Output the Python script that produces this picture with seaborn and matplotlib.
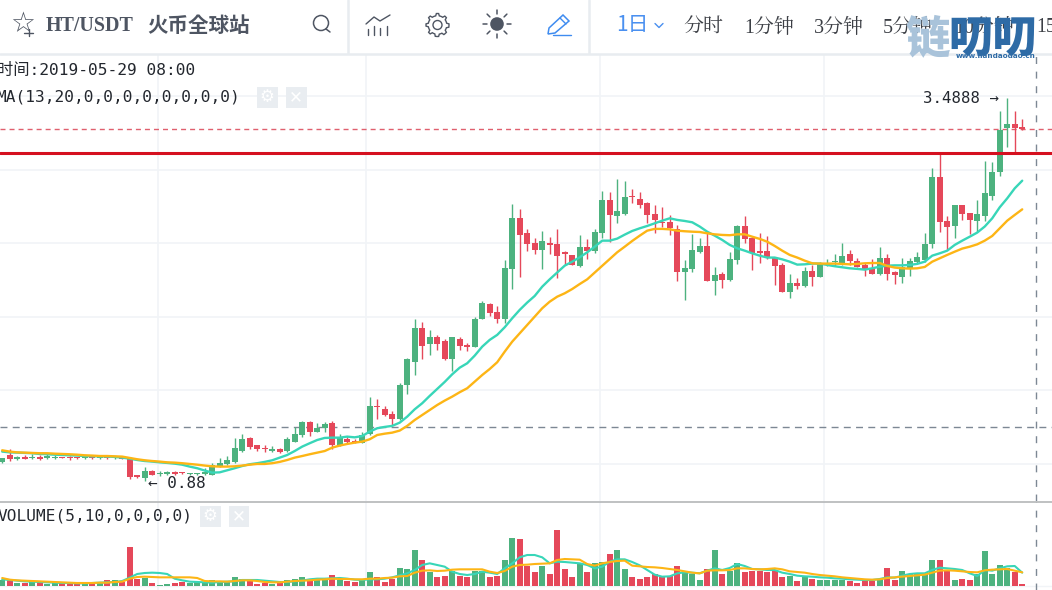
import numpy as np
import pandas as pd
import matplotlib
matplotlib.use("Agg")
import matplotlib.pyplot as plt
from matplotlib.patches import Rectangle, Circle, Polygon
import seaborn as sns

body_top = [1.039,1.061,1.050,1.050,1.050,1.050,1.054,1.050,1.048,1.050,
1.045,1.045,1.045,1.045,1.045,1.045,1.045,1.036,0.923,0.955,
0.952,0.941,0.946,0.946,0.943,0.937,0.937,0.943,0.993,1.005,
1.027,1.107,1.172,1.179,1.127,1.109,1.100,1.102,1.170,1.202,
1.288,1.283,1.247,1.272,1.277,1.175,1.170,1.159,1.200,1.395,
1.395,1.374,1.342,1.537,1.712,1.925,1.925,1.864,1.864,1.834,
1.864,1.853,1.812,1.986,2.098,2.088,2.036,2.333,2.671,2.671,
2.569,2.506,2.517,2.506,2.497,2.440,2.424,2.476,2.476,2.578,
2.794,2.794,2.721,2.814,2.823,2.803,2.773,2.701,2.649,2.649,
2.599,2.333,2.456,2.485,2.485,2.283,2.293,2.395,2.621,2.619,
2.537,2.447,2.447,2.404,2.354,2.234,2.231,2.313,2.313,2.363,
2.370,2.383,2.415,2.426,2.383,2.354,2.333,2.404,2.404,2.304,
2.342,2.383,2.408,2.497,2.955,2.955,2.651,2.762,2.762,2.710,
2.701,2.844,2.986,3.272,3.311,3.311,3.290]
body_bottom = [1.011,1.034,1.032,1.036,1.039,1.032,1.043,1.043,1.043,1.043,
1.039,1.039,1.041,1.041,1.041,1.041,1.036,0.914,0.914,0.902,
0.927,0.932,0.932,0.932,0.937,0.932,0.932,0.932,0.927,0.989,
0.998,1.016,1.091,1.118,1.100,1.100,1.091,1.082,1.091,1.152,
1.197,1.220,1.220,1.245,1.129,1.129,1.147,1.147,1.141,1.202,
1.385,1.333,1.304,1.304,1.540,1.694,1.805,1.814,1.814,1.712,
1.712,1.805,1.794,1.794,1.989,2.029,1.986,1.986,2.324,2.560,
2.499,2.456,2.456,2.490,2.415,2.431,2.354,2.345,2.447,2.447,
2.569,2.692,2.689,2.701,2.814,2.762,2.692,2.660,2.639,2.603,
2.304,2.304,2.324,2.442,2.243,2.243,2.252,2.252,2.385,2.528,
2.438,2.438,2.404,2.345,2.170,2.170,2.213,2.211,2.272,2.272,
2.356,2.372,2.361,2.383,2.342,2.324,2.293,2.293,2.293,2.286,
2.272,2.331,2.374,2.385,2.494,2.649,2.610,2.619,2.701,2.660,
2.651,2.689,2.823,2.986,3.286,3.286,3.279]
wick_high = [1.043,1.100,1.054,1.061,1.066,1.061,1.066,1.061,1.050,1.054,
1.050,1.054,1.048,1.048,1.048,1.048,1.048,1.045,0.927,0.982,
0.959,0.955,0.955,0.955,0.946,0.939,0.939,0.971,1.009,1.039,
1.054,1.175,1.202,1.181,1.132,1.127,1.122,1.107,1.186,1.254,
1.293,1.293,1.277,1.283,1.293,1.204,1.190,1.170,1.220,1.454,
1.442,1.395,1.361,1.553,1.719,1.984,1.966,1.909,1.875,1.850,
1.864,1.864,1.823,1.998,2.107,2.098,2.077,2.388,2.771,2.732,
2.599,2.537,2.587,2.544,2.596,2.449,2.424,2.558,2.528,2.596,
2.857,2.853,2.939,2.925,2.871,2.853,2.780,2.762,2.751,2.694,
2.624,2.390,2.562,2.535,2.569,2.342,2.304,2.440,2.626,2.685,
2.546,2.571,2.553,2.404,2.365,2.290,2.263,2.342,2.354,2.376,
2.395,2.431,2.506,2.456,2.399,2.365,2.395,2.474,2.426,2.313,
2.404,2.404,2.444,2.574,3.011,3.113,2.685,2.762,2.762,2.710,
2.794,3.061,3.052,3.401,3.489,3.399,3.347]
wick_low = [1.005,1.023,1.027,1.032,1.032,1.027,1.032,1.036,1.039,1.027,
1.034,1.032,1.036,1.036,1.036,1.036,1.032,0.900,0.905,0.884,
0.923,0.918,0.923,0.927,0.932,0.927,0.927,0.925,0.923,0.982,
0.993,1.009,1.084,1.104,1.091,1.082,1.084,1.077,1.084,1.152,
1.181,1.190,1.220,1.218,1.102,1.125,1.141,1.141,1.141,1.197,
1.304,1.327,1.265,1.299,1.476,1.603,1.712,1.744,1.776,1.710,
1.633,1.776,1.766,1.794,1.989,2.009,1.961,1.957,2.190,2.274,
2.447,2.429,2.324,2.429,2.268,2.354,2.354,2.342,2.395,2.433,
2.537,2.508,2.642,2.694,2.778,2.744,2.637,2.569,2.615,2.558,
2.247,2.118,2.308,2.433,2.243,2.147,2.197,2.247,2.358,2.506,
2.317,2.365,2.395,2.215,2.170,2.127,2.193,2.206,2.213,2.272,
2.349,2.347,2.354,2.354,2.342,2.279,2.293,2.286,2.252,2.224,
2.229,2.281,2.370,2.374,2.467,2.576,2.456,2.537,2.660,2.567,
2.580,2.651,2.794,2.959,3.159,3.113,3.272]
direction = list("GRGRGRGGRR" "RGRGRGRRRG" "RGGRRGGGGG" "GGGRRRGRGG" "GRGGRGRRGG"
                 "RRRGGGRGRR" "GRRGGRRGGR" "RRGRRRRGRG" "GRGGRRRRRR" "RGGGRGRGGR"
                 "RRRRRGRGRG" "GGGRRRRGRR" "GGGGGRRGRR" "GGGGGRR")
ma13 = [1.084,1.079,1.077,1.075,1.073,1.068,1.066,1.063,1.061,1.059,
1.057,1.054,1.052,1.052,1.050,1.048,1.043,1.036,1.027,1.020,
1.016,1.011,1.007,1.002,0.995,0.982,0.971,0.955,0.941,0.943,
0.957,0.971,0.986,0.998,1.005,1.014,1.025,1.043,1.061,1.088,
1.118,1.141,1.163,1.177,1.179,1.179,1.186,1.181,1.190,1.220,
1.243,1.252,1.259,1.281,1.322,1.372,1.413,1.463,1.510,1.558,
1.610,1.655,1.685,1.737,1.798,1.844,1.878,1.930,1.991,2.048,
2.098,2.143,2.206,2.256,2.302,2.349,2.376,2.406,2.440,2.478,
2.519,2.519,2.533,2.560,2.585,2.603,2.619,2.637,2.655,2.671,
2.660,2.653,2.644,2.615,2.580,2.553,2.524,2.490,2.467,2.451,
2.433,2.417,2.404,2.404,2.392,2.376,2.356,2.358,2.363,2.363,
2.354,2.345,2.338,2.331,2.327,2.322,2.331,2.342,2.349,2.351,
2.351,2.354,2.361,2.376,2.417,2.433,2.451,2.490,2.519,2.546,
2.574,2.615,2.671,2.746,2.807,2.875,2.927]
ma20 = [1.093,1.084,1.079,1.077,1.075,1.073,1.073,1.070,1.068,1.066,
1.063,1.059,1.057,1.054,1.054,1.052,1.050,1.041,1.032,1.025,
1.020,1.016,1.011,1.009,1.005,1.000,0.995,0.989,0.984,0.982,
0.982,0.984,0.989,0.995,1.000,1.000,1.005,1.014,1.027,1.043,
1.054,1.066,1.077,1.088,1.111,1.125,1.136,1.145,1.152,1.168,
1.197,1.206,1.213,1.227,1.259,1.299,1.333,1.367,1.401,1.431,
1.458,1.488,1.515,1.560,1.605,1.646,1.692,1.764,1.832,1.889,
1.946,2.002,2.059,2.104,2.138,2.161,2.190,2.224,2.256,2.302,
2.347,2.395,2.440,2.478,2.517,2.553,2.587,2.599,2.599,2.596,
2.587,2.583,2.580,2.578,2.569,2.562,2.558,2.556,2.562,2.562,
2.546,2.531,2.512,2.483,2.451,2.422,2.404,2.383,2.365,2.363,
2.363,2.363,2.361,2.358,2.361,2.365,2.367,2.367,2.347,2.336,
2.331,2.329,2.331,2.340,2.376,2.399,2.422,2.444,2.465,2.478,
2.494,2.519,2.551,2.603,2.655,2.694,2.732]
volume = [18,18,8,8,13,13,6,8,8,10,8,8,8,10,18,18,13,117,22,23,
8,4,5,8,13,10,12,13,18,13,12,26,20,20,5,10,5,10,18,22,
26,18,18,18,32,18,14,13,18,41,26,13,22,54,50,108,78,41,26,31,
45,31,26,45,45,27,31,77,144,140,59,41,59,36,167,50,27,68,41,68,
72,95,108,50,27,22,27,36,27,31,59,41,36,18,50,108,36,45,68,41,
45,45,41,45,27,31,14,27,22,18,18,18,18,14,9,14,14,22,54,18,
45,36,36,36,77,77,45,18,22,18,36,104,36,63,54,41,5]
vol_ma5 = [20,18,16,14,13,12,11,10,9,9,8,8,9,10,11,12,15,25,36,39,
40,39,36,22,17,13,12,11,10,12,13,14,18,18,18,16,14,12,12,14,
16,20,22,22,23,24,22,19,18,20,20,22,26,32,38,48,63,68,63,58,
43,36,33,36,43,40,36,53,68,86,93,93,86,68,73,72,70,68,63,53,
58,73,80,80,72,62,48,34,28,29,38,41,40,38,46,53,48,54,66,60,
51,50,48,48,40,36,31,29,28,26,25,23,22,20,19,18,18,21,26,25,
31,36,38,38,48,55,53,51,48,38,30,48,46,53,59,60,40]
vol_ma10 = [24,19,17,16,15,14,13,12,11,10,9,9,9,10,10,12,13,22,27,28,
27,26,26,26,26,26,24,15,14,14,13,15,17,17,15,12,11,11,13,15,
16,17,19,20,22,21,21,20,20,22,22,24,25,29,30,40,46,47,45,46,
49,50,50,50,50,43,39,45,58,63,64,66,67,68,78,81,80,79,66,61,
68,72,75,76,61,59,57,56,54,51,48,44,40,38,46,47,47,48,53,53,
51,50,51,53,50,44,42,40,36,33,31,29,26,24,22,20,19,20,24,26,
28,30,32,34,40,46,47,46,44,42,41,47,49,50,51,46,41]
y_grid = [1.0, 1.5, 2.0, 2.5, 3.0, 3.5]
x_grid = [20.8, 48.5, 79.7, 109.6]
last_price = 3.279
resistance = 3.116
support = 1.252
crosshair_x = 137.8
peak_label = "3.4888"
low_label = "0.88"
nav_items = ["分时", "1分钟", "3分钟", "5分钟", "10分钟", "15"]

GREEN, RED = "#4db27f", "#e5485a"
TEAL, ORANGE = "#38d6b8", "#fdb515"
GRID = "#f1f4f7"
CJK = ["Noto Sans CJK JP"]
MONO = ["DejaVu Sans Mono", "Noto Sans CJK JP"]
SERIF = ["Liberation Serif", "Noto Serif CJK JP"]
SERIF_BOLD = ["Liberation Serif", "Noto Sans CJK JP"]

sns.set_theme(style="white")
W, H = 1052, 590
fig = plt.figure(figsize=(W / 100, H / 100), dpi=100, facecolor="white")

def add_axes(top, bottom):
    return fig.add_axes([0, 1 - bottom / H, 1, (bottom - top) / H])

ax = add_axes(55, 501)
vx = add_axes(502, 590)
idx = np.arange(len(body_top))
xlim = (-0.293, 139.97)

# --- price panel
ax.set_xlim(*xlim)
ax.set_ylim(0.748, 3.782)
for g in y_grid:
    ax.axhline(g, color=GRID, lw=1.2, zorder=0)
for g in x_grid:
    ax.axvline(g, color=GRID, lw=1.2, zorder=0)
    vx.axvline(g, color=GRID, lw=1.2, zorder=0)
colors = [GREEN if d == "G" else RED for d in direction]
ax.vlines(idx, wick_low, wick_high, colors=colors, lw=1.0, zorder=2)
ax.bar(idx, np.array(body_top) - np.array(body_bottom), bottom=body_bottom, width=0.78,
       color=colors, linewidth=0, zorder=3)
price = pd.DataFrame({"i": idx, "ma13": ma13, "ma20": ma20})
sns.lineplot(data=price, x="i", y="ma13", color=TEAL, lw=1.7, ax=ax, zorder=4)
sns.lineplot(data=price, x="i", y="ma20", color=ORANGE, lw=1.7, ax=ax, zorder=5)
ax.axhline(resistance, color="#d5101f", lw=2.2, zorder=6)
ax.axhline(last_price, color="#e0606e", lw=1, dashes=(3.6, 2.9), zorder=1)
ax.axhline(support, color="#7d8894", lw=1, dashes=(5, 3.8), zorder=1)
ax.axvline(crosshair_x, color="#7d8894", lw=1, dashes=(5, 5.5), zorder=1)
ax.text(132.9, 3.489, peak_label + " →", ha="right", va="center", fontsize=11.3,
        family=MONO, color="#23272e", zorder=7)
ax.text(19.4, 0.864, "← " + low_label, ha="left", va="center", fontsize=11.5,
        family=MONO, color="#23272e", zorder=7)

# --- volume panel
vx.set_xlim(*xlim)
vx.set_ylim(-12, 252)
vol = pd.DataFrame({"i": idx, "v": volume, "d": direction, "m5": vol_ma5, "m10": vol_ma10})
sns.barplot(data=vol, x="i", y="v", hue="d", palette={"G": GREEN, "R": RED}, native_scale=True,
            dodge=False, width=0.78, legend=False, linewidth=0, saturation=1, ax=vx, zorder=2)
sns.lineplot(data=vol, x="i", y="m5", color=TEAL, lw=1.5, ax=vx, zorder=4)
sns.lineplot(data=vol, x="i", y="m10", color=ORANGE, lw=1.5, ax=vx, zorder=5)
vx.axvline(crosshair_x, color="#7d8894", lw=1, dashes=(5, 5.5), zorder=1)
vx.axhline(0, color=GRID, lw=1, zorder=0)
for a in (ax, vx):
    a.set_xlabel("")
    a.set_ylabel("")
    a.set_xticks([])
    a.set_yticks([])
    a.patch.set_alpha(0)
    for s in a.spines.values():
        s.set_visible(False)
vx.set_xlim(*xlim)
ax.set_xlim(*xlim)

# --- page chrome drawn in pixel units
ov = fig.add_axes([0, 0, 1, 1], zorder=20)
ov.set_xlim(0, W)
ov.set_ylim(H, 0)
ov.axis("off")
LINE = "#e8ecf0"
ov.axhline(53.5, color=LINE, lw=1.8)
ov.plot([347.5, 347.5], [0, 53], color=LINE, lw=1.8)
ov.plot([589, 589], [0, 53], color=LINE, lw=1.8)
ov.axhline(501.5, color="#b4b6b8", lw=1.2)

INK = "#4e5562"
ov.text(23, 24, "☆", fontsize=20, ha="center", va="center", color=INK, family="DejaVu Sans")
ov.plot([24, 33], [33, 33], color=INK, lw=1)
ov.plot([28.5, 28.5], [29, 36], color=INK, lw=1)
ov.text(46, 26, "HT/USDT", fontsize=14.4, fontweight="bold", ha="left", va="center", color=INK, family=SERIF_BOLD)
ov.text(147, 25, "火币全球站", fontsize=14.8, fontweight="bold", ha="left", va="center", color=INK, family=CJK)
ov.add_patch(Circle((321, 23), 7.5, fill=False, ec=INK, lw=1.1))
ov.plot([326, 330], [29, 32], color=INK, lw=1.1)
# chart icon
ov.plot([366, 374, 380, 385, 390], [24, 17, 21, 18, 15], color=INK, lw=1.0)
for x, y0 in zip([368, 374, 380, 387], [29, 26, 28, 26]):
    ov.plot([x, x], [y0, 35], color=INK, lw=1.0)
# gear outline
ang = np.linspace(0, 2 * np.pi, 65)
rad = 11.5 - 2.2 * (np.cos(8 * ang) < 0)
ov.add_patch(Polygon(np.c_[437.5 + rad * np.cos(ang), 25 + rad * np.sin(ang)], fill=False, ec=INK, lw=1.0))
ov.add_patch(Circle((437.5, 25), 4.5, fill=False, ec=INK, lw=1.0))
# sun
ov.add_patch(Circle((497, 24), 6.8, fc=INK, ec="none"))
for a in np.arange(8) * np.pi / 4:
    ov.plot([497 + 10 * np.cos(a), 497 + 14 * np.cos(a)], [24 + 10 * np.sin(a), 24 + 14 * np.sin(a)], color=INK, lw=1.1)
# pencil
BLUE = "#3f8cf0"
ov.add_patch(Polygon([(548, 34), (549, 28), (563, 15), (569, 21), (555, 33)], fill=False, ec=BLUE, lw=1.1))
ov.plot([560, 566], [18, 24], color=BLUE, lw=1)
ov.plot([553, 571], [34.5, 34.5], color=BLUE, lw=1)

ov.text(616, 24.5, "1日", fontsize=15, ha="left", va="center", color="#4a90f0", family=CJK)
ov.plot([655, 659, 663], [23.5, 27.5, 23.5], color="#4a90f0", lw=1)
NAV = "#3c3f45"
for s, x in zip(nav_items, [683, 744, 814, 883, 954, 1036]):
    ov.text(x, 28, s, fontsize=14.4, ha="left", va="center", color=NAV, family=SERIF, clip_on=True)

TXT = "#23272e"
ov.text(-3, 70, "时间:2019-05-29 08:00", fontsize=11.7, ha="left", va="center", color=TXT, family=MONO)
ov.text(-3.3, 97, "MA(13,20,0,0,0,0,0,0,0,0)", fontsize=11.6, ha="left", va="center", color=TXT, family=MONO)
ov.text(-2.5, 516, "VOLUME(5,10,0,0,0,0)", fontsize=11.6, ha="left", va="center", color=TXT, family=MONO)

BTN = "#e9edf1"
for x0, y0, glyph in [(257, 87, "⚙"), (286, 87, "✕"), (200, 506, "⚙"), (228.5, 506, "✕")]:
    ov.add_patch(Rectangle((x0, y0), 20.5, 20.5, fc=BTN, ec="none"))
    ov.text(x0 + 10.2, y0 + 10, glyph, fontsize=12, ha="center", va="center", color="white",
            family="DejaVu Sans", fontweight="bold")

# watermark
ov.text(905, 39, "链", fontsize=32, fontweight="black", ha="left", va="center", color="#a9c3da", family=CJK, zorder=9)
ov.text(948, 39, "叨叨", fontsize=32, fontweight="black", ha="left", va="center", color="#2e6ba6", family=CJK, zorder=9)
ov.text(1036, 56, "www.liandaodao.cn", fontsize=5.2, fontweight="bold", ha="right", va="center", color="#2e6ba6", zorder=9)

fig.savefig("out.png", dpi=100, facecolor="white")
